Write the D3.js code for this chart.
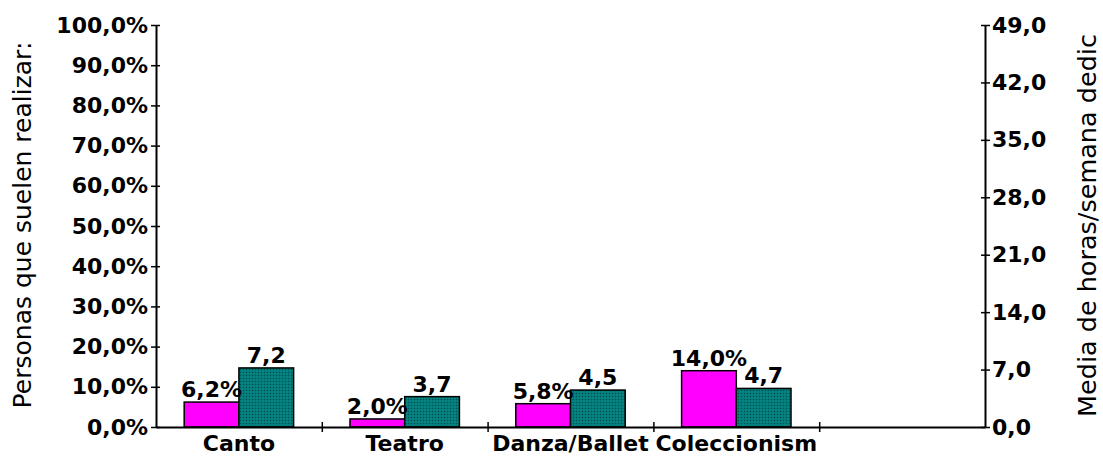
<!DOCTYPE html>
<html><head><meta charset="utf-8">
<script src="https://cdn.jsdelivr.net/npm/d3@7"></script>
<style>body{margin:0;background:#fff}</style>
</head><body>
<svg id="c" width="1103" height="457"></svg>
<script>
const categories = ["Canto","Teatro","Danza/Ballet","Coleccionism",""];
const pctValues = [6.2, 2.0, 5.8, 14.0, null];
const hourValues = [7.2, 3.7, 4.5, 4.7, null];
const leftTicks = [0,10,20,30,40,50,60,70,80,90,100];
const rightTicks = [0,7,14,21,28,35,42,49];

const svg = d3.select("#c");
const x0=156,x1=985,yTop=25,yBot=427;
const font="'DejaVu Sans',sans-serif";
const fs=22;

const defs=svg.append("defs");
const pat=defs.append("pattern").attr("id","teal").attr("width",3).attr("height",3).attr("patternUnits","userSpaceOnUse");
pat.append("rect").attr("width",3).attr("height",3).attr("fill","#007a78");
pat.append("rect").attr("x",0).attr("y",0).attr("width",1).attr("height",1).attr("fill","#004f4f");
pat.append("rect").attr("x",1.5).attr("y",1.5).attr("width",1).attr("height",1).attr("fill","#1a9a98");

const x=d3.scaleBand().domain(d3.range(categories.length)).range([x0,x1]).paddingInner(0).paddingOuter(0);
const yL=d3.scaleLinear().domain([0,100]).range([yBot,yTop]);
const yR=d3.scaleLinear().domain([0,49]).range([yBot,yTop]);
const bw=x.bandwidth()*0.33;

const g=svg.append("g");
categories.forEach((c,i)=>{
  const cx=x(i)+x.bandwidth()/2;
  if(pctValues[i]!=null){
    g.append("rect").attr("x",cx-bw).attr("y",yL(pctValues[i])).attr("width",bw).attr("height",yBot-yL(pctValues[i]))
      .attr("fill","#ff00ff").attr("stroke","#000").attr("stroke-width",1.5);
  }
  if(hourValues[i]!=null){
    g.append("rect").attr("x",cx).attr("y",yR(hourValues[i])).attr("width",bw).attr("height",yBot-yR(hourValues[i]))
      .attr("fill","url(#teal)").attr("stroke","#000").attr("stroke-width",1.5);
  }
});
const fmt=v=>v.toFixed(1).replace(".",",");
categories.forEach((c,i)=>{
  const cx=x(i)+x.bandwidth()/2;
  if(pctValues[i]!=null)
    svg.append("text").attr("x",cx-bw/2).attr("y",yL(pctValues[i])-5).attr("text-anchor","middle")
      .attr("font-family",font).attr("font-weight","bold").attr("font-size",fs).text(fmt(pctValues[i])+"%");
  if(hourValues[i]!=null)
    svg.append("text").attr("x",cx+bw/2).attr("y",yR(hourValues[i])-5).attr("text-anchor","middle")
      .attr("font-family",font).attr("font-weight","bold").attr("font-size",fs).text(fmt(hourValues[i]));
});

const axL=svg.append("g").attr("transform",`translate(${x0},0)`)
  .call(d3.axisLeft(yL).tickValues(leftTicks).tickFormat(d=>fmt(d)+"%").tickSize(5).tickSizeOuter(0));
const axR=svg.append("g").attr("transform",`translate(${x1},0)`)
  .call(d3.axisRight(yR).tickValues(rightTicks).tickFormat(d=>fmt(d)).tickSize(5).tickSizeOuter(0));
const xs=d3.scaleLinear().domain([0,categories.length]).range([x0,x1]);
const axB=svg.append("g").attr("transform",`translate(0,${yBot})`)
  .call(d3.axisBottom(xs).tickValues(d3.range(1,categories.length)).tickFormat("").tickSize(5).tickSizeOuter(0));
[axL,axR,axB].forEach(a=>{
  a.select(".domain").attr("stroke","#000").attr("stroke-width",2);
  a.selectAll(".tick line").attr("stroke","#000").attr("stroke-width",1.5);
});
axL.selectAll(".tick line").attr("x1",4);
axR.selectAll(".tick line").attr("x1",-4);
axB.selectAll(".tick line").attr("y1",-5);
axL.selectAll(".tick text").attr("x",-8).attr("font-family",font).attr("font-weight","bold").attr("font-size",fs).attr("fill","#000");
axR.selectAll(".tick text").attr("x",7).attr("font-family",font).attr("font-weight","bold").attr("font-size",fs).attr("fill","#000");

categories.forEach((c,i)=>{
  svg.append("text").attr("x",x(i)+x.bandwidth()/2).attr("y",451).attr("text-anchor","middle")
    .attr("font-family",font).attr("font-weight","bold").attr("font-size",fs).text(c);
});

svg.append("text").attr("transform","translate(31,225) rotate(-90)").attr("text-anchor","middle")
  .attr("font-family",font).attr("font-size",25).text("Personas que suelen realizar:");
svg.append("text").attr("transform","translate(1096,417) rotate(-90)").attr("text-anchor","start")
  .attr("font-family",font).attr("font-size",25.5).text("Media de horas/semana dedic");
</script>
</body></html>
